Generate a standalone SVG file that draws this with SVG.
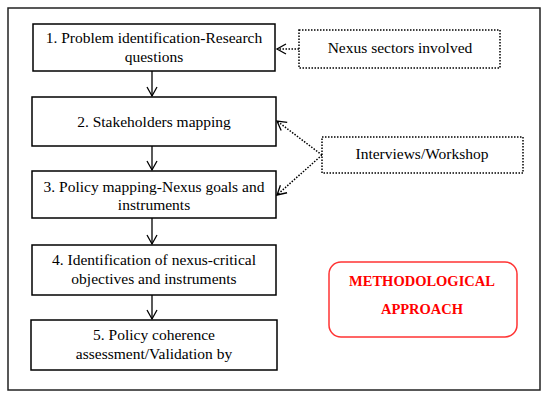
<svg xmlns="http://www.w3.org/2000/svg" width="550" height="400" viewBox="0 0 550 400">
<defs>
<marker id="v" markerWidth="12" markerHeight="12" refX="10" refY="6" orient="auto" markerUnits="userSpaceOnUse">
<path d="M1,1 L10,6 L1,11" fill="none" stroke="#000" stroke-width="1.3"/>
</marker>
</defs>
<rect x="8" y="8" width="532" height="382" fill="#fff" stroke="#222" stroke-width="1.5"/>
<g id="connectors" fill="none" stroke="#000">
<g stroke-width="1.3">
<line x1="152" y1="71" x2="152" y2="96" marker-end="url(#v)"/>
<line x1="152" y1="146" x2="152" y2="170" marker-end="url(#v)"/>
<line x1="152" y1="218" x2="152" y2="244" marker-end="url(#v)"/>
<line x1="152" y1="295" x2="152" y2="319" marker-end="url(#v)"/>
</g>
<g stroke-width="1.5" stroke-dasharray="1.5 1.5">
<line x1="299" y1="49" x2="277" y2="49" marker-end="url(#v)"/>
<line x1="322" y1="155" x2="277" y2="121" marker-end="url(#v)"/>
<line x1="322" y1="155" x2="277" y2="195" marker-end="url(#v)"/>
</g>
</g>
<g id="n1"><rect x="33" y="24" width="242" height="47" fill="#fff" stroke="#000" stroke-width="1.5"/><text style="font-family:'Liberation Serif',serif;font-size:15.5px" text-anchor="middle" x="154" y="43">1. Problem identification-Research</text><text style="font-family:'Liberation Serif',serif;font-size:15.5px" text-anchor="middle" x="154" y="62">questions</text></g>
<g id="n2"><rect x="32" y="97" width="244" height="49" fill="#fff" stroke="#000" stroke-width="1.5"/><text style="font-family:'Liberation Serif',serif;font-size:15.5px" text-anchor="middle" x="154" y="127">2. Stakeholders mapping</text></g>
<g id="n3"><rect x="32" y="171" width="244" height="47" fill="#fff" stroke="#000" stroke-width="1.5"/><text style="font-family:'Liberation Serif',serif;font-size:15.5px" text-anchor="middle" x="154" y="192">3. Policy mapping-Nexus goals and</text><text style="font-family:'Liberation Serif',serif;font-size:15.5px" text-anchor="middle" x="154" y="210">instruments</text></g>
<g id="n4"><rect x="32" y="245" width="244" height="50" fill="#fff" stroke="#000" stroke-width="1.5"/><text style="font-family:'Liberation Serif',serif;font-size:15.5px" text-anchor="middle" x="154" y="265">4. Identification of nexus-critical</text><text style="font-family:'Liberation Serif',serif;font-size:15.5px" text-anchor="middle" x="154" y="284">objectives and instruments</text></g>
<g id="n5"><rect x="31" y="320" width="246" height="50" fill="#fff" stroke="#000" stroke-width="1.5"/><text style="font-family:'Liberation Serif',serif;font-size:15.5px" text-anchor="middle" x="154" y="340">5. Policy coherence</text><text style="font-family:'Liberation Serif',serif;font-size:15.5px" text-anchor="middle" x="154" y="359">assessment/Validation by</text></g>
<g id="nexus"><rect x="299" y="30" width="201" height="38" fill="#fff" stroke="#000" stroke-width="1.5" stroke-dasharray="1.5 1.5"/><text style="font-family:'Liberation Serif',serif;font-size:15.5px" text-anchor="middle" x="400" y="53">Nexus sectors involved</text></g>
<g id="interviews"><rect x="322" y="137" width="201" height="36" fill="#fff" stroke="#000" stroke-width="1.5" stroke-dasharray="1.5 1.5"/><text style="font-family:'Liberation Serif',serif;font-size:15.5px" text-anchor="middle" x="422" y="159">Interviews/Workshop</text></g>
<g id="method"><rect x="329" y="262" width="188" height="75" rx="12" fill="#fff" stroke="#f33" stroke-width="1.5"/><text style="font-family:'Liberation Serif',serif;font-size:14.5px;font-weight:bold" fill="#f00" text-anchor="middle" x="422" y="286">METHODOLOGICAL</text><text style="font-family:'Liberation Serif',serif;font-size:14.5px;font-weight:bold" fill="#f00" text-anchor="middle" x="422" y="314">APPROACH</text></g>
</svg>
